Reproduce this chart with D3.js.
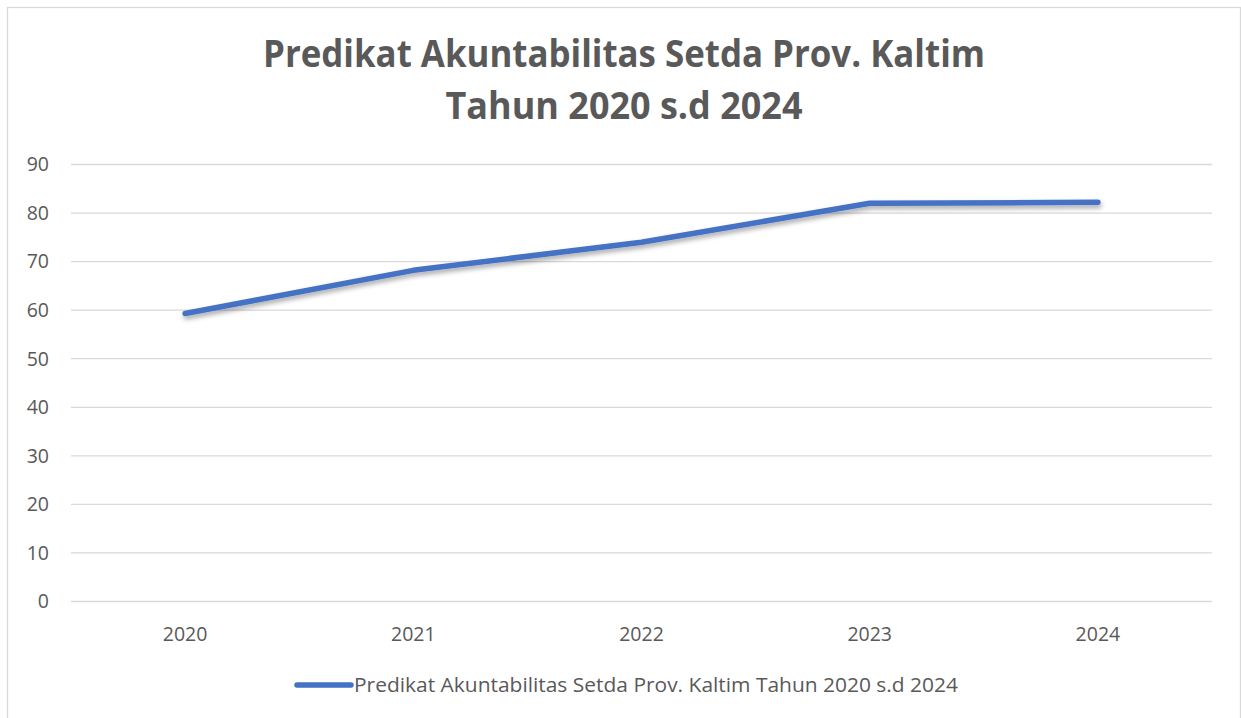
<!DOCTYPE html>
<html>
<head>
<meta charset="utf-8">
<script src="https://cdn.jsdelivr.net/npm/d3@7"></script>
<style>
  body { margin: 0; background: #fff; }
  svg { display: block; }
  text { font-family: "Open Sans", "Noto Sans", sans-serif; fill: #595959; }
</style>
</head>
<body>
<div id="grafico"></div>
<script>
const tahun = ['2020', '2021', '2022', '2023', '2024'];
const nilai = [59.2, 68.1, 73.9, 81.9, 82.1];
const ticksY = [0, 10, 20, 30, 40, 50, 60, 70, 80, 90];
const judul = ['Predikat Akuntabilitas Setda Prov. Kaltim', 'Tahun 2020 s.d 2024'];
const namaSeri = 'Predikat Akuntabilitas Setda Prov. Kaltim Tahun 2020 s.d 2024';

const width = 1241, height = 718;
const margin = { top: 164, right: 29, bottom: 117, left: 71 };
const biru = '#4472C4';

const svg = d3.select('#grafico')
  .append('svg')
  .attr('width', width)
  .attr('height', height);

// sombra de la linea
const defs = svg.append('defs');
const f = defs.append('filter').attr('id', 'sombra')
  .attr('x', '-5%').attr('y', '-50%').attr('width', '110%').attr('height', '200%');
f.append('feDropShadow')
  .attr('dx', 1).attr('dy', 3).attr('stdDeviation', 2.5)
  .attr('flood-color', '#000').attr('flood-opacity', 0.35);

// marco
svg.append('rect')
  .attr('x', 7.5).attr('y', 7.5)
  .attr('width', 1233).attr('height', 730)
  .attr('fill', 'none')
  .attr('stroke', '#d9d9d9')
  .attr('stroke-width', 1.3);

const x = d3.scaleBand()
  .domain(tahun)
  .range([margin.left, width - margin.right]);

const y = d3.scaleLinear()
  .domain([0, 90])
  .range([height - margin.bottom, margin.top]);

// lineas de grilla
svg.append('g')
  .selectAll('line')
  .data(ticksY)
  .join('line')
  .attr('x1', margin.left)
  .attr('x2', width - margin.right)
  .attr('y1', d => y(d) + 0.5)
  .attr('y2', d => y(d) + 0.5)
  .attr('stroke', '#d9d9d9')
  .attr('stroke-width', 1.3);

// eje Y
const ejeY = svg.append('g')
  .attr('transform', `translate(${margin.left - 22},0)`)
  .call(d3.axisLeft(y).tickValues(ticksY).tickSize(0).tickPadding(0));
ejeY.select('.domain').remove();
ejeY.selectAll('text')
  .style('font-size', '19.5px')
  .attr('fill', '#595959')
  .attr('dy', '0.35em');

// eje X
const ejeX = svg.append('g')
  .attr('transform', `translate(0,${height - margin.bottom})`)
  .call(d3.axisBottom(x).tickSize(0).tickPadding(0));
ejeX.select('.domain').remove();
ejeX.selectAll('text')
  .style('font-size', '19.5px')
  .attr('fill', '#595959')
  .attr('y', 40)
  .attr('dy', 0);

// linea
const datos = tahun.map((t, i) => ({ t, v: nilai[i] }));
const linea = d3.line()
  .x(d => x(d.t) + x.bandwidth() / 2)
  .y(d => y(d.v));

svg.append('path')
  .datum(datos)
  .attr('d', linea)
  .attr('fill', 'none')
  .attr('stroke', biru)
  .attr('stroke-width', 5.5)
  .attr('stroke-linecap', 'round')
  .attr('stroke-linejoin', 'round')
  .attr('filter', 'url(#sombra)');

// titulo
const centroX = (7 + 1241) / 2;
svg.append('text')
  .attr('x', centroX).attr('y', 67)
  .attr('text-anchor', 'middle')
  .attr('textLength', 722).attr('lengthAdjust', 'spacingAndGlyphs')
  .style('font-size', '37px').style('font-weight', 'bold')
  .text(judul[0]);
svg.append('text')
  .attr('x', centroX).attr('y', 119)
  .attr('text-anchor', 'middle')
  .attr('textLength', 357).attr('lengthAdjust', 'spacingAndGlyphs')
  .style('font-size', '37px').style('font-weight', 'bold')
  .text(judul[1]);

// leyenda
const ley = svg.append('g');
ley.append('line')
  .attr('x1', 297).attr('x2', 351)
  .attr('y1', 685).attr('y2', 685)
  .attr('stroke', biru)
  .attr('stroke-width', 5.5)
  .attr('stroke-linecap', 'round');
ley.append('text')
  .attr('x', 354).attr('y', 692)
  .attr('textLength', 604).attr('lengthAdjust', 'spacingAndGlyphs')
  .style('font-size', '19.5px')
  .text(namaSeri);
</script>
</body>
</html>
